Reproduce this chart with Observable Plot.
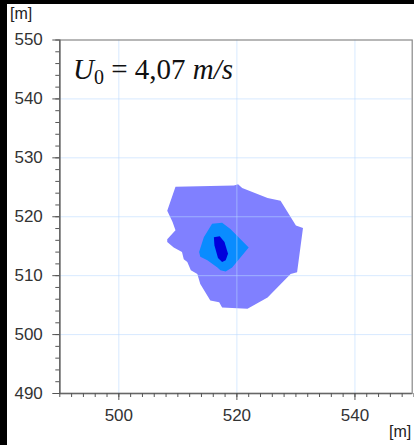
<!DOCTYPE html>
<html><head><meta charset="utf-8">
<script src="https://cdn.jsdelivr.net/npm/d3@7"></script>
<script src="https://cdn.jsdelivr.net/npm/@observablehq/plot@0.6"></script>
<style>
html,body{margin:0;padding:0;background:#000;width:414px;height:445px;overflow:hidden;}
#panel{position:absolute;left:7px;top:4px;width:407px;height:441px;background:#fff;}
#chart{position:absolute;left:0;top:0;}
.unit{position:absolute;font-family:"Liberation Sans",Arial,sans-serif;font-size:16px;color:#222;}
</style></head><body>
<div id="panel"></div>
<div id="chart"></div>
<div class="unit" style="left:10px;top:5px">[m]</div>
<div class="unit" style="left:389px;top:423px">[m]</div>
<script>
// Velocity-deficit contour levels (coordinates in metres)
const outerX = [509.6, 519.5, 520.2, 520.9, 525.2, 527.4, 530.0, 531.2, 530.2, 529.1, 525.2, 521.8, 517.5, 517.0, 515.5, 513.8, 513.3, 512.2, 511.6, 511.0, 510.7, 509.3, 508.2, 508.2, 509.6, 509.1, 508.2];
const outerY = [525.1, 525.3, 525.5, 524.9, 523.2, 522.7, 518.5, 518.1, 510.6, 510.3, 506.3, 504.4, 504.6, 505.5, 505.8, 508.6, 510.3, 510.9, 512.3, 512.8, 514.0, 514.8, 515.7, 516.2, 517.7, 519.1, 521.0];

const middleX = [515.8, 517.5, 518.9, 522.0, 519.2, 518.1, 517.2, 516.7, 515.0, 513.8, 513.6, 514.4];
const middleY = [518.8, 519.0, 517.9, 514.8, 511.4, 510.7, 510.9, 511.4, 512.6, 513.2, 514.0, 516.5];

const innerX = [516.1, 517.1, 517.9, 518.5, 518.1, 517.5, 516.8, 516.2];
const innerY = [516.5, 516.7, 515.7, 513.7, 512.6, 512.3, 513.0, 515.1];

const levelNames = ["outer", "middle", "inner"];
const levelColors = ["#8080ff", "#0a8cff", "#0000dc"];

const xMajor = [500, 520, 540];
const yMajor = [490, 500, 510, 520, 530, 540, 550];
const minorTicks = d3.range(490, 551, 2);

const titleText = {symbol: "U", sub: "0", value: " = 4,07 ", unit: "m/s"};

const polys = [[outerX, outerY], [middleX, middleY], [innerX, innerY]];
const contours = polys.flatMap(([xs, ys], i) =>
  xs.map((x, j) => ({level: levelNames[i], x, y: ys[j]})));

const tickColor = "#555";
const font = '"Liberation Sans", Arial, sans-serif';

const chart = Plot.plot({
  width: 414,
  height: 445,
  marginLeft: 59.3,
  marginRight: 2.3,
  marginTop: 39.5,
  marginBottom: 52,
  style: {background: "transparent", fontFamily: font, fontSize: "17px", color: "#333"},
  x: {domain: [490, 549.7]},
  y: {domain: [490, 550]},
  color: {domain: levelNames, range: levelColors},
  marks: [
    ...levelNames.map(name =>
      Plot.line(contours.filter(d => d.level === name), {
        x: "x", y: "y", fill: "level", stroke: "none", curve: "linear-closed"
      })),
    Plot.gridX(xMajor, {stroke: "#b8d8ff", strokeOpacity: 0.55, strokeWidth: 1}),
    Plot.gridY(yMajor.filter(v => v > 490 && v < 550), {stroke: "#b8d8ff", strokeOpacity: 0.55, strokeWidth: 1}),
    Plot.frame({stroke: "#888", strokeWidth: 1.2}),
    Plot.ruleX([490], {stroke: "#666", strokeWidth: 1.5}),
    Plot.ruleY([490], {stroke: "#666", strokeWidth: 1.5}),
    Plot.axisX(minorTicks, {tickSize: 4, tickFormat: null, label: null, stroke: tickColor, text: null}),
    Plot.axisY(minorTicks, {tickSize: 4, tickFormat: null, label: null, stroke: tickColor, text: null}),
    Plot.axisX(xMajor, {tickSize: 7, tickPadding: 8, label: null, stroke: tickColor, fill: "#333", fontSize: 17}),
    Plot.axisY(yMajor, {tickSize: 7, tickPadding: 10, label: null, stroke: tickColor, fill: "#333", fontSize: 17})
  ]
});
document.getElementById("chart").append(chart);

// Free-stream velocity annotation
const svg = d3.select(chart);
const t = svg.append("text")
  .attr("x", 73).attr("y", 79)
  .attr("text-anchor", "start")
  .attr("font-family", '"Liberation Serif", "Times New Roman", serif')
  .attr("font-size", 29).attr("fill", "#111");
t.append("tspan").attr("font-style", "italic").text(titleText.symbol);
t.append("tspan").attr("dy", 5).attr("font-size", 20).text(titleText.sub);
t.append("tspan").attr("dy", -5).text(titleText.value);
t.append("tspan").attr("font-style", "italic").text(titleText.unit);
</script>
</body></html>
